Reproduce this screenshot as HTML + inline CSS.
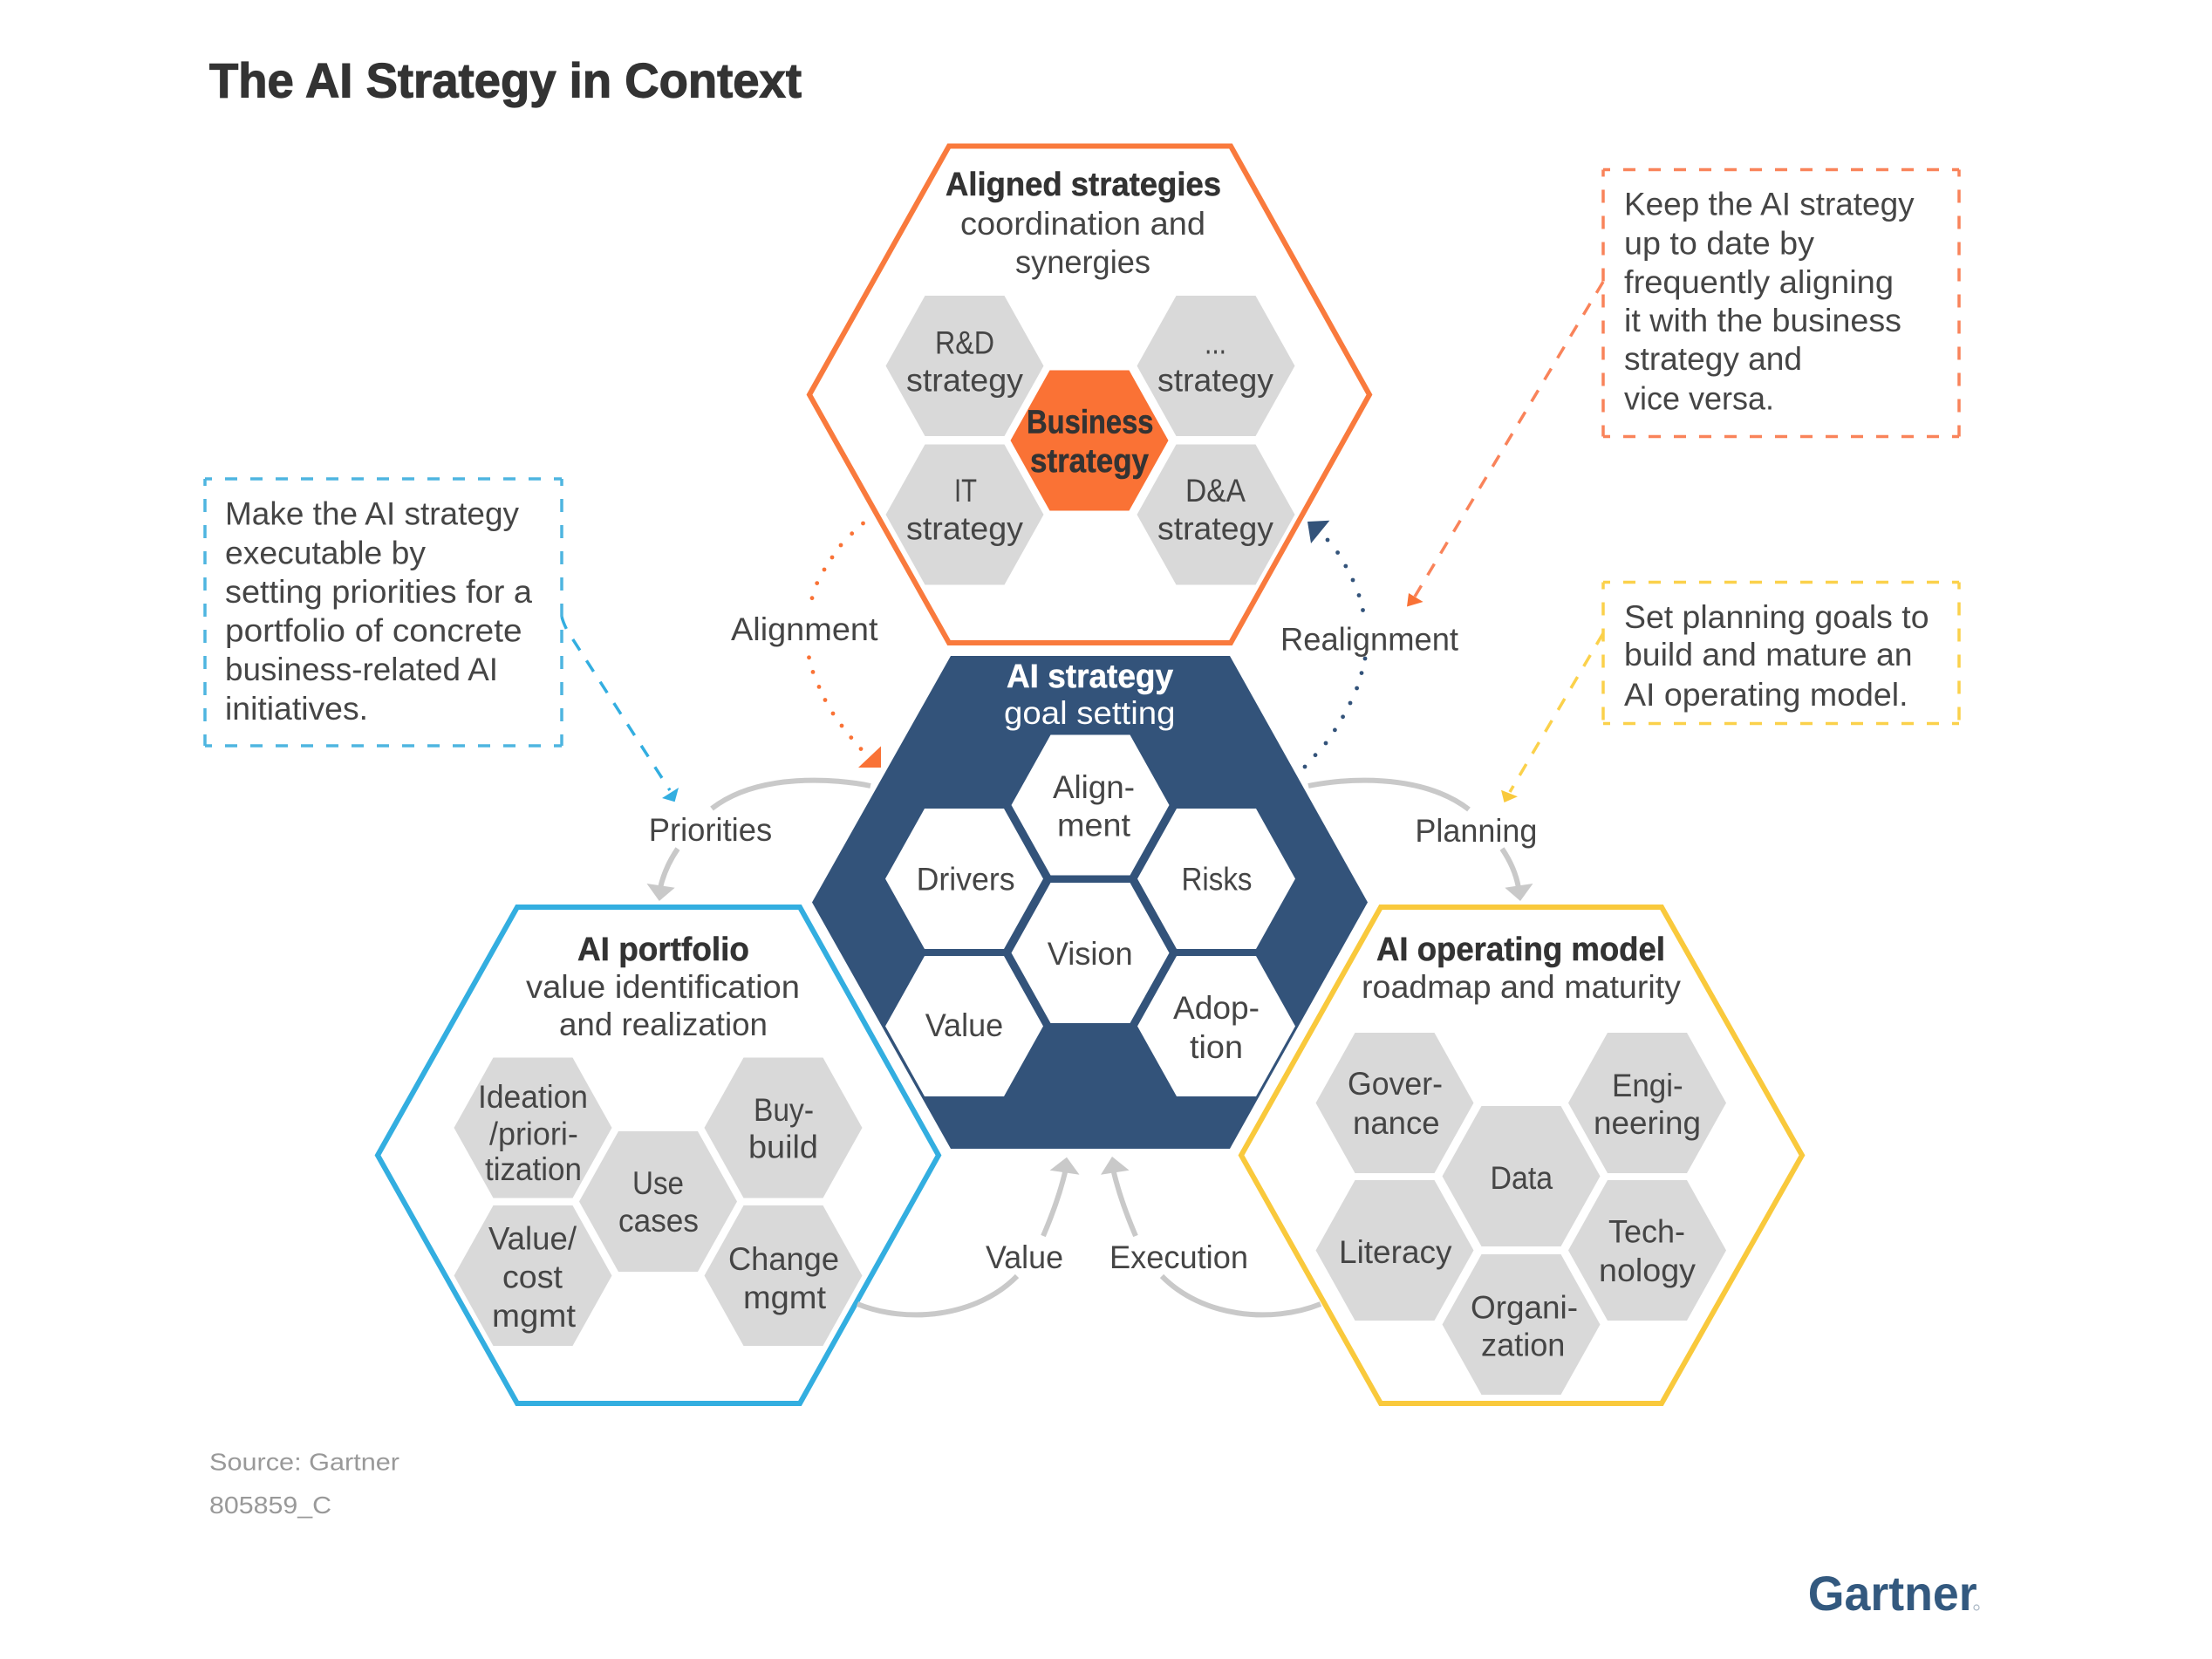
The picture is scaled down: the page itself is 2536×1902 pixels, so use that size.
<!DOCTYPE html>
<html><head><meta charset="utf-8"><title>The AI Strategy in Context</title>
<style>
html,body{margin:0;padding:0;background:#fff}
svg{display:block}
text{font-family:"Liberation Sans",sans-serif;font-size:37px;fill:#454545}
.b{font-weight:700;fill:#333;font-size:38px;stroke:#333;stroke-width:.5}
.w{fill:#fff}
.g{fill:#d9d9d9}
.wh{fill:#fff}
.arc{fill:none;stroke:#c9c9c9;stroke-width:6}
</style></head><body>
<svg width="2536" height="1902" viewBox="0 0 2536 1902" xmlns="http://www.w3.org/2000/svg">
<defs><polygon id="h" points="-90.5,0 -45.5,-80.5 45.5,-80.5 90.5,0 45.5,80.5 -45.5,80.5"/></defs>
<rect width="2536" height="1902" fill="#fff"/>

<text x="240" y="111.5" class="b" style="font-size:56px;stroke-width:1.2" textLength="679" lengthAdjust="spacingAndGlyphs">The AI Strategy in Context</text>

<!-- Aligned strategies -->
<polygon points="928,452.5 1088,167.5 1411,167.5 1570,452.5 1411,737 1088,737" fill="#fff" stroke="#f97a3d" stroke-width="6"/>
<use href="#h" x="1106" y="419.5" class="g"/>
<use href="#h" x="1394" y="419.5" class="g"/>
<use href="#h" x="1106" y="590" class="g"/>
<use href="#h" x="1394" y="590" class="g"/>
<use href="#h" x="1249" y="505" fill="#fa7235"/>
<text x="1084" y="224" class="b" textLength="316" lengthAdjust="spacingAndGlyphs">Aligned strategies</text>
<text x="1101" y="269" textLength="281" lengthAdjust="spacingAndGlyphs">coordination and</text>
<text x="1164" y="312.8" textLength="155" lengthAdjust="spacingAndGlyphs">synergies</text>
<text x="1072" y="405.7" textLength="68" lengthAdjust="spacingAndGlyphs">R&amp;D</text>
<text x="1039" y="448.4" textLength="134" lengthAdjust="spacingAndGlyphs">strategy</text>
<text x="1381" y="405.7" textLength="25" lengthAdjust="spacingAndGlyphs">...</text>
<text x="1327" y="448.4" textLength="133" lengthAdjust="spacingAndGlyphs">strategy</text>
<text x="1094" y="575" textLength="26" lengthAdjust="spacingAndGlyphs">IT</text>
<text x="1039" y="618.5" textLength="134" lengthAdjust="spacingAndGlyphs">strategy</text>
<text x="1359" y="575" textLength="69" lengthAdjust="spacingAndGlyphs">D&amp;A</text>
<text x="1327" y="618.5" textLength="133" lengthAdjust="spacingAndGlyphs">strategy</text>
<text x="1177" y="496.7" class="b" textLength="145.5" lengthAdjust="spacingAndGlyphs">Business</text>
<text x="1181" y="541" class="b" textLength="136" lengthAdjust="spacingAndGlyphs">strategy</text>

<!-- AI portfolio -->
<polygon points="433,1324.5 593,1040 917,1040 1076,1324.5 917,1609 593,1609" fill="#fff" stroke="#33aee0" stroke-width="6"/>
<use href="#h" x="611" y="1293" class="g"/>
<use href="#h" x="611" y="1462.5" class="g"/>
<use href="#h" x="754.5" y="1377.5" class="g"/>
<use href="#h" x="898" y="1293" class="g"/>
<use href="#h" x="898" y="1462.5" class="g"/>
<text x="662" y="1101" class="b" textLength="197" lengthAdjust="spacingAndGlyphs">AI portfolio</text>
<text x="603" y="1143.8" textLength="314" lengthAdjust="spacingAndGlyphs">value identification</text>
<text x="641" y="1187" textLength="239" lengthAdjust="spacingAndGlyphs">and realization</text>
<text x="548" y="1270" textLength="126" lengthAdjust="spacingAndGlyphs">Ideation</text>
<text x="561" y="1312.6" textLength="101.8" lengthAdjust="spacingAndGlyphs">/priori-</text>
<text x="556" y="1353" textLength="111" lengthAdjust="spacingAndGlyphs">tization</text>
<text x="560" y="1432.4" textLength="101" lengthAdjust="spacingAndGlyphs">Value/</text>
<text x="576" y="1476.7" textLength="69" lengthAdjust="spacingAndGlyphs">cost</text>
<text x="564" y="1521" textLength="96" lengthAdjust="spacingAndGlyphs">mgmt</text>
<text x="725" y="1368.8" textLength="59" lengthAdjust="spacingAndGlyphs">Use</text>
<text x="709" y="1412" textLength="92" lengthAdjust="spacingAndGlyphs">cases</text>
<text x="864" y="1285" textLength="69" lengthAdjust="spacingAndGlyphs">Buy-</text>
<text x="858" y="1327.6" textLength="80" lengthAdjust="spacingAndGlyphs">build</text>
<text x="835" y="1456" textLength="127" lengthAdjust="spacingAndGlyphs">Change</text>
<text x="852" y="1500" textLength="95" lengthAdjust="spacingAndGlyphs">mgmt</text>

<!-- AI operating model -->
<polygon points="1423,1324.5 1583,1040 1905,1040 2066,1324.5 1905,1609 1583,1609" fill="#fff" stroke="#f9c93c" stroke-width="6"/>
<use href="#h" x="1599" y="1264.5" class="g"/>
<use href="#h" x="1599" y="1433.5" class="g"/>
<use href="#h" x="1744" y="1348.5" class="g"/>
<use href="#h" x="1744" y="1518.5" class="g"/>
<use href="#h" x="1888.5" y="1264.5" class="g"/>
<use href="#h" x="1888.5" y="1433.5" class="g"/>
<text x="1578" y="1101" class="b" textLength="331" lengthAdjust="spacingAndGlyphs">AI operating model</text>
<text x="1561" y="1144" textLength="366" lengthAdjust="spacingAndGlyphs">roadmap and maturity</text>
<text x="1545" y="1255" textLength="109" lengthAdjust="spacingAndGlyphs">Gover-</text>
<text x="1551" y="1300" textLength="99.6" lengthAdjust="spacingAndGlyphs">nance</text>
<text x="1848" y="1257" textLength="81.7" lengthAdjust="spacingAndGlyphs">Engi-</text>
<text x="1827" y="1300" textLength="123" lengthAdjust="spacingAndGlyphs">neering</text>
<text x="1708.5" y="1363" textLength="71.6" lengthAdjust="spacingAndGlyphs">Data</text>
<text x="1535" y="1448" textLength="129.5" lengthAdjust="spacingAndGlyphs">Literacy</text>
<text x="1844" y="1424.5" textLength="88" lengthAdjust="spacingAndGlyphs">Tech-</text>
<text x="1833" y="1469" textLength="111" lengthAdjust="spacingAndGlyphs">nology</text>
<text x="1686" y="1511.5" textLength="123" lengthAdjust="spacingAndGlyphs">Organi-</text>
<text x="1698" y="1554.6" textLength="96.4" lengthAdjust="spacingAndGlyphs">zation</text>

<!-- AI strategy navy -->
<polygon points="931,1034.5 1090,752 1410,752 1568,1034.5 1410,1317 1090,1317" fill="#33537a"/>
<use href="#h" x="1250" y="923" class="wh"/>
<use href="#h" x="1105.5" y="1007.5" class="wh"/>
<use href="#h" x="1394.5" y="1007.5" class="wh"/>
<use href="#h" x="1250" y="1092.5" class="wh"/>
<use href="#h" x="1105.5" y="1176.5" class="wh"/>
<use href="#h" x="1394.5" y="1176.5" class="wh"/>
<text x="1154" y="788" class="b" style="fill:#fff;stroke:#fff" textLength="191" lengthAdjust="spacingAndGlyphs">AI strategy</text>
<text x="1151" y="829.8" class="w" textLength="196.5" lengthAdjust="spacingAndGlyphs">goal setting</text>
<text x="1207" y="914.8" textLength="94" lengthAdjust="spacingAndGlyphs">Align-</text>
<text x="1212" y="958.7" textLength="84" lengthAdjust="spacingAndGlyphs">ment</text>
<text x="1050.6" y="1020.7" textLength="113" lengthAdjust="spacingAndGlyphs">Drivers</text>
<text x="1354.5" y="1020.7" textLength="81" lengthAdjust="spacingAndGlyphs">Risks</text>
<text x="1200.7" y="1105.8" textLength="98" lengthAdjust="spacingAndGlyphs">Vision</text>
<text x="1060.7" y="1188" textLength="89.5" lengthAdjust="spacingAndGlyphs">Value</text>
<text x="1345" y="1168" textLength="99" lengthAdjust="spacingAndGlyphs">Adop-</text>
<text x="1364" y="1213" textLength="61" lengthAdjust="spacingAndGlyphs">tion</text>

<!-- gray arcs -->
<path class="arc" d="M998 901C960 893 870 885 816 927"/>
<path class="arc" d="M777 973Q762 995 757 1018"/>
<polygon points="755.8,1033 741.5,1013 773.7,1017.7" fill="#c9c9c9"/>
<path class="arc" d="M1500 901C1538 893 1628 885 1684 928"/>
<path class="arc" d="M1722 973Q1737 995 1741 1018"/>
<polygon points="1743,1033 1757.5,1013 1725.3,1017.7" fill="#c9c9c9"/>
<path class="arc" d="M983 1495C1040 1518 1120 1510 1166 1463"/>
<path class="arc" d="M1196 1417Q1214 1375 1222 1340"/>
<polygon points="1223,1326.7 1203.6,1341.7 1237.5,1346.7" fill="#c9c9c9"/>
<path class="arc" d="M1514 1495C1457 1518 1378 1510 1332 1463"/>
<path class="arc" d="M1302 1417Q1284 1375 1276 1340"/>
<polygon points="1275,1326 1262,1346.7 1294.6,1341.7" fill="#c9c9c9"/>

<!-- dotted connectors -->
<g fill="#f97236">
<circle cx="989.5" cy="600" r="2.4"/><circle cx="976.7" cy="611.7" r="2.4"/><circle cx="964" cy="625" r="2.4"/><circle cx="954" cy="639" r="2.4"/><circle cx="945" cy="653" r="2.4"/><circle cx="936.7" cy="668.6" r="2.4"/><circle cx="931" cy="685.7" r="2.4"/>
<circle cx="927.5" cy="753.8" r="2.4"/><circle cx="932" cy="770.4" r="2.4"/><circle cx="939" cy="787.4" r="2.4"/><circle cx="946" cy="802.5" r="2.4"/><circle cx="955" cy="818" r="2.4"/><circle cx="965" cy="832" r="2.4"/><circle cx="975.8" cy="845.6" r="2.4"/><circle cx="987" cy="858.6" r="2.4"/>
<polygon points="1010,855.5 1010,880 984,880"/>
</g>
<g fill="#33537a">
<circle cx="1522" cy="619" r="2.4"/><circle cx="1533.6" cy="633.5" r="2.4"/><circle cx="1542.8" cy="649" r="2.4"/><circle cx="1551" cy="665" r="2.4"/><circle cx="1558" cy="682.5" r="2.4"/><circle cx="1562.5" cy="699.5" r="2.4"/>
<circle cx="1565" cy="755" r="2.4"/><circle cx="1561" cy="771.6" r="2.4"/><circle cx="1555.6" cy="789" r="2.4"/><circle cx="1548" cy="806" r="2.4"/><circle cx="1539.6" cy="821.8" r="2.4"/><circle cx="1530.4" cy="836.9" r="2.4"/><circle cx="1520" cy="852" r="2.4"/><circle cx="1508" cy="865.7" r="2.4"/><circle cx="1496" cy="879" r="2.4"/>
<polygon points="1499,598 1524.4,596.7 1503,623"/>
</g>

<!-- connector labels -->
<text x="838" y="734" textLength="168.5" lengthAdjust="spacingAndGlyphs">Alignment</text>
<text x="1468" y="745.5" textLength="204" lengthAdjust="spacingAndGlyphs">Realignment</text>
<text x="743.7" y="964" textLength="141.5" lengthAdjust="spacingAndGlyphs">Priorities</text>
<text x="1622.4" y="965" textLength="140" lengthAdjust="spacingAndGlyphs">Planning</text>
<text x="1130" y="1454" textLength="89" lengthAdjust="spacingAndGlyphs">Value</text>
<text x="1272" y="1454" textLength="159" lengthAdjust="spacingAndGlyphs">Execution</text>

<!-- note boxes -->
<path d="M235 549H644M235 855H644" fill="none" stroke="#4eb5e0" stroke-width="3.5" stroke-dasharray="14 15" stroke-dashoffset="-23"/>
<path d="M235 549V855M644 549V855" fill="none" stroke="#4eb5e0" stroke-width="3.5" stroke-dasharray="15 15" stroke-dashoffset="-23"/>
<text x="258" y="601.7" textLength="337" lengthAdjust="spacingAndGlyphs">Make the AI strategy</text>
<text x="258" y="646.5" textLength="230" lengthAdjust="spacingAndGlyphs">executable by</text>
<text x="258" y="691" textLength="352" lengthAdjust="spacingAndGlyphs">setting priorities for a</text>
<text x="258" y="735.5" textLength="340.6" lengthAdjust="spacingAndGlyphs">portfolio of concrete</text>
<text x="258" y="780" textLength="313" lengthAdjust="spacingAndGlyphs">business-related AI</text>
<text x="258" y="825" textLength="164" lengthAdjust="spacingAndGlyphs">initiatives.</text>
<path d="M644 707Q646 715 651 724L768 906" fill="none" stroke="#33aee0" stroke-width="3.5" stroke-dasharray="15 14"/>
<polygon points="773.6,919.3 759,915 778,903" fill="#33aee0"/>

<path d="M1838 194.5H2246M1838 500.5H2246" fill="none" stroke="#f9835a" stroke-width="3.5" stroke-dasharray="14 15" stroke-dashoffset="-23"/>
<path d="M1838 194.5V500.5M2246 194.5V500.5" fill="none" stroke="#f9835a" stroke-width="3.5" stroke-dasharray="15 15" stroke-dashoffset="-23"/>
<text x="1862" y="246.5" textLength="332.6" lengthAdjust="spacingAndGlyphs">Keep the AI strategy</text>
<text x="1862" y="291.4" textLength="218" lengthAdjust="spacingAndGlyphs">up to date by</text>
<text x="1862" y="335.8" textLength="309" lengthAdjust="spacingAndGlyphs">frequently aligning</text>
<text x="1862" y="380" textLength="318" lengthAdjust="spacingAndGlyphs">it with the business</text>
<text x="1862" y="424" textLength="204" lengthAdjust="spacingAndGlyphs">strategy and</text>
<text x="1862" y="469.5" textLength="172" lengthAdjust="spacingAndGlyphs">vice versa.</text>
<path d="M1838 323L1622 684" fill="none" stroke="#f9835a" stroke-width="3.5" stroke-dasharray="15 14"/>
<polygon points="1613,695.5 1615,680 1631.6,690" fill="#f97236"/>

<path d="M1838 667.5H2246M1838 829.5H2246" fill="none" stroke="#fbd14b" stroke-width="3.5" stroke-dasharray="14 15" stroke-dashoffset="-23"/>
<path d="M1838 667.5V829.5M2246 667.5V829.5" fill="none" stroke="#fbd14b" stroke-width="3.5" stroke-dasharray="15 15" stroke-dashoffset="-23"/>
<text x="1862" y="720" textLength="349.5" lengthAdjust="spacingAndGlyphs">Set planning goals to</text>
<text x="1862" y="763" textLength="330.6" lengthAdjust="spacingAndGlyphs">build and mature an</text>
<text x="1862" y="808.8" textLength="325.5" lengthAdjust="spacingAndGlyphs">AI operating model.</text>
<path d="M1838 726L1731 908" fill="none" stroke="#fbd14b" stroke-width="3.5" stroke-dasharray="15 14"/>
<polygon points="1724.5,920 1721,905.7 1740,913.3" fill="#f9c93c"/>

<!-- footer -->
<text x="240" y="1685.7" style="font-size:28px;fill:#999" textLength="218" lengthAdjust="spacingAndGlyphs">Source: Gartner</text>
<text x="240" y="1735" style="font-size:28px;fill:#999" textLength="140" lengthAdjust="spacingAndGlyphs">805859_C</text>
<text x="2072.7" y="1846" style="font-size:56px;font-weight:700;fill:#33597f" textLength="194" lengthAdjust="spacingAndGlyphs">Gartner</text>
<circle cx="2266" cy="1843" r="3" fill="none" stroke="#a9b6c4" stroke-width="1.2"/>
</svg>
</body></html>
